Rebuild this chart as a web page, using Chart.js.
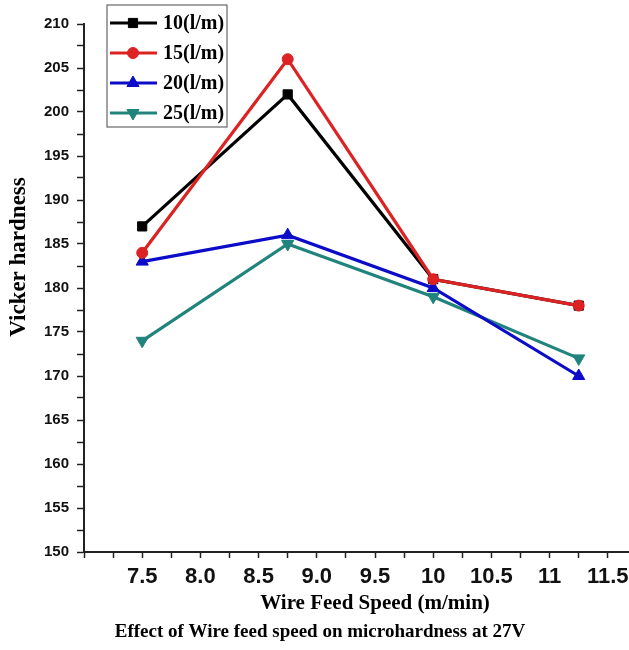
<!DOCTYPE html>
<html>
<head>
<meta charset="utf-8">
<script src="https://cdn.jsdelivr.net/npm/chart.js@4.4.0/dist/chart.umd.min.js"></script>
<style>
  html, body { margin: 0; padding: 0; background: #fff; overflow: hidden; }
  #frame { width: 629px; height: 650px; overflow: hidden; position: relative; }
  #box { width: 674px; height: 650px; position: absolute; left: 0; top: 0; }
</style>
</head>
<body>
<div id="frame"><div id="box"><canvas id="c"></canvas></div></div>
<script>
// Wire feed speed (m/min) at which hardness was measured
const wireFeedSpeed = [7.5, 8.75, 10, 11.25];

// Vickers hardness for each shielding gas flow rate
const flow10 = [187, 202, 181, 178];
const flow15 = [184, 206, 181, 178];
const flow20 = [183, 186, 180, 170];
const flow25 = [174, 185, 179, 172];

const seriesLabels = ['10(l/m)', '15(l/m)', '20(l/m)', '25(l/m)'];

// Labelled ticks on the speed axis
const xTickValues = [7.5, 8.0, 8.5, 9.0, 9.5, 10, 10.5, 11, 11.5];
const xTickLabels = ['7.5', '8.0', '8.5', '9.0', '9.5', '10', '10.5', '11', '11.5'];

// Hardness axis
const yTickValues = [150, 155, 160, 165, 170, 175, 180, 185, 190, 195, 200, 205, 210];

const SERIF = "'Liberation Serif', 'Times New Roman', serif";
const SANS = "'Liberation Sans', Arial, sans-serif";

function pts(values) {
  return wireFeedSpeed.map((x, i) => ({ x: x, y: values[i] }));
}

function series(label, values, color, style, radius, rotation, order) {
  return {
    label: label,
    data: pts(values),
    borderColor: color,
    backgroundColor: color,
    borderWidth: 3.2,
    pointStyle: style,
    pointRadius: radius,
    pointRotation: rotation,
    pointBackgroundColor: color,
    pointBorderColor: color,
    pointBorderWidth: 1,
    tension: 0,
    fill: false,
    order: order
  };
}

// Legend box with line + marker samples, the rotated y title and the caption
const annotate = {
  id: 'annotate',
  afterDraw(chart) {
    const ctx = chart.ctx;
    const area = chart.chartArea;
    const bx = area.left + 23, by = 5, bw = 120, bh = 122;
    ctx.save();
    ctx.fillStyle = '#ffffff';
    ctx.fillRect(bx, by, bw, bh);
    ctx.strokeStyle = '#666';
    ctx.lineWidth = 1.2;
    ctx.strokeRect(bx, by, bw, bh);
    chart.data.datasets.forEach((ds, i) => {
      const cy = by + 18 + i * 30;
      ctx.strokeStyle = ds.borderColor;
      ctx.lineWidth = 3.2;
      ctx.beginPath();
      ctx.moveTo(bx + 3, cy);
      ctx.lineTo(bx + 50, cy);
      ctx.stroke();
      ctx.fillStyle = ds.pointBackgroundColor;
      ctx.strokeStyle = ds.pointBorderColor;
      ctx.lineWidth = 1;
      Chart.helpers.drawPoint(ctx, {
        pointStyle: ds.pointStyle,
        radius: ds.pointRadius,
        rotation: ds.pointRotation,
        borderWidth: 1
      }, bx + 26, cy);
      ctx.fillStyle = '#000';
      ctx.font = 'bold 20px ' + SERIF;
      ctx.textAlign = 'left';
      ctx.textBaseline = 'middle';
      ctx.fillText(ds.label, bx + 56, cy + 1);
    });

    // y axis title
    ctx.save();
    ctx.translate(19, 257);
    ctx.rotate(-Math.PI / 2);
    ctx.fillStyle = '#000';
    ctx.font = 'bold 23px ' + SERIF;
    ctx.textAlign = 'center';
    ctx.textBaseline = 'middle';
    ctx.fillText('Vicker hardness', 0, 0);
    ctx.restore();

    // caption
    ctx.fillStyle = '#000';
    ctx.font = 'bold 19px ' + SERIF;
    ctx.textAlign = 'center';
    ctx.textBaseline = 'middle';
    ctx.fillText('Effect of Wire feed speed on microhardness at 27V', 320, 632);
    ctx.restore();
  }
};

new Chart(document.getElementById('c'), {
  type: 'line',
  data: {
    datasets: [
      series(seriesLabels[0], flow10, '#000000', 'rect', 6.5, 0, 3),
      series(seriesLabels[1], flow15, '#dc2222', 'circle', 5.5, 0, 1),
      series(seriesLabels[2], flow20, '#0c0cc8', 'triangle', 7, 0, 2),
      series(seriesLabels[3], flow25, '#21847c', 'triangle', 7, 180, 4)
    ]
  },
  options: {
    responsive: true,
    maintainAspectRatio: false,
    animation: false,
    layout: { padding: { top: 24, bottom: 30, left: 0, right: 0 } },
    plugins: {
      legend: { display: false },
      tooltip: { enabled: false },
      title: { display: false }
    },
    scales: {
      x: {
        type: 'linear',
        min: 7,
        max: 12,
        afterBuildTicks(scale) {
          const ticks = [];
          for (let v = 7; v <= 12.0001; v += 0.25) ticks.push({ value: Math.round(v * 100) / 100 });
          scale.ticks = ticks;
        },
        afterFit(scale) {
          scale.height = 68;
        },
        ticks: {
          autoSkip: false,
          maxRotation: 0,
          padding: 6,
          color: '#111',
          font: { family: SANS, size: 22, weight: 'bold' },
          callback(value) {
            const k = xTickValues.findIndex(v => Math.abs(v - value) < 1e-6);
            return k >= 0 ? xTickLabels[k] : '';
          }
        },
        grid: {
          display: true,
          drawOnChartArea: false,
          drawTicks: true,
          tickLength: 6,
          tickColor: '#222',
          tickWidth: 1.5
        },
        border: { display: true, color: '#222', width: 2 },
        title: {
          display: true,
          text: 'Wire Feed Speed (m/min)',
          color: '#000',
          font: { family: SERIF, size: 21, weight: 'bold' },
          padding: { top: 0, bottom: 4 }
        }
      },
      y: {
        type: 'linear',
        min: 150,
        max: 210,
        afterBuildTicks(scale) {
          const ticks = [];
          for (let v = 150; v <= 210.0001; v += 2.5) ticks.push({ value: v });
          scale.ticks = ticks;
        },
        afterFit(scale) { scale.width = 84; },
        ticks: {
          autoSkip: false,
          padding: 8,
          color: '#111',
          font: { family: SANS, size: 15, weight: 'bold' },
          callback(value) {
            return yTickValues.includes(value) ? String(value) : '';
          }
        },
        grid: {
          display: true,
          drawOnChartArea: false,
          drawTicks: true,
          tickLength: 7,
          tickColor: '#222',
          tickWidth: 1.5
        },
        border: { display: true, color: '#222', width: 2 }
      }
    }
  },
  plugins: [annotate]
});
</script>
</body>
</html>
